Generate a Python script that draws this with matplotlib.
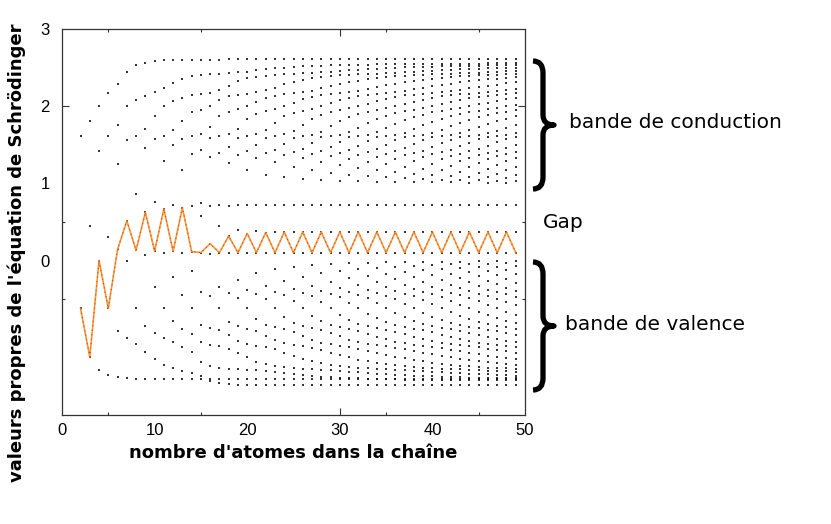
import numpy as np
import matplotlib
matplotlib.use("Agg")
from matplotlib import pyplot as plt
from matplotlib.path import Path
from matplotlib.patches import PathPatch

# chain of two kinds of atoms (site energies), nearest-neighbour hopping
eps_A = 1.0
eps_B = 0.0
hop = 1.0
# order of the atoms along the chain, fitted on the dots of the picture
head = "ABBABAABABABAB"
unit = "BA"
n_atoms = list(range(2, 50))

xtick_labels = ["0", "10", "20", "30", "40", "50"]
ytick_labels = ["0", "1", "2", "3"]


def chain(n):
    seq = (head + unit * n)[:n]
    e = [eps_A if s == "A" else eps_B for s in seq]
    h = np.diag(e) + np.diag([hop] * (n - 1), 1) + np.diag([hop] * (n - 1), -1)
    return np.sort(np.linalg.eigvalsh(h)), seq.count("A")


xs, ys, homo = [], [], []
for n in n_atoms:
    ev, na = chain(n)
    xs += [n] * n
    ys += list(ev)
    homo.append(ev[na - 1])  # last filled level, 2 electrons per A atom

fig = plt.figure(figsize=(8.31, 5.24), dpi=100)
ax = fig.add_axes([62 / 831, 1 - 415 / 524, 463 / 831, 386 / 524])

ax.plot(xs, ys, "s", color="#111111", markersize=1.5, markeredgewidth=0, alpha=0.85)
ax.plot(n_atoms, homo, color="#f39a3a", lw=1.2)
ax.plot(n_atoms, homo, color="#e8401c", lw=0.8, dashes=(1, 3))

ax.set_xlim(0, 50)
ax.set_ylim(-2, 3)
ax.set_xticks(range(0, 51, 10))
ax.set_xticklabels(xtick_labels, fontfamily="Liberation Sans", fontsize=12)
ax.set_yticks([0, 1, 2, 3])
ax.set_yticklabels(ytick_labels, fontfamily="Liberation Sans", fontsize=12)
ax.tick_params(which="major", direction="in", length=5, width=0.8,
               top=True, right=True, color="#333333")
ax.tick_params(axis="x", which="major", pad=6)
ax.tick_params(axis="y", which="major", pad=9)
for i, t in enumerate(ax.xaxis.get_major_ticks()):
    if i != 3:
        t.tick1line.set_visible(False)
        t.tick2line.set_visible(False)
for i, t in enumerate(ax.yaxis.get_major_ticks()):
    if i != 2:
        t.tick1line.set_visible(False)
        t.tick2line.set_visible(False)
ax.set_xticks([5, 15, 35, 45], minor=True)
ax.set_yticks([-0.5, 0.5], minor=True)
ax.tick_params(which="minor", direction="in", length=2.5, width=0.8,
               top=True, right=True, color="#333333")
for s in ax.spines.values():
    s.set_linewidth(0.9)
    s.set_color("#333333")

ax.set_xlabel("nombre d'atomes dans la chaîne", fontsize=13, fontweight="bold",
              fontfamily="DejaVu Sans", labelpad=4)
ax.set_ylabel("valeurs propres de l'équation de Schrödinger", fontsize=13,
              fontweight="bold", fontfamily="DejaVu Sans")
ax.yaxis.set_label_coords(-36 / 463, 0.42)

# overlay in pixel coordinates for the braces and their labels
ov = fig.add_axes([0, 0, 1, 1])
ov.set_xlim(0, 831)
ov.set_ylim(524, 0)
ov.axis("off")


def brace(y0, y1, xl=533, xs_=543, xt=554):
    m = (y0 + y1) / 2
    verts = [(xl, y0), (xs_, y0), (xs_, y0 + 12),
             (xs_, m - 10), (xs_, m), (xt, m),
             (xs_, m), (xs_, m + 10),
             (xs_, y1 - 12), (xs_, y1), (xl, y1)]
    codes = [Path.MOVETO, Path.CURVE3, Path.CURVE3,
             Path.LINETO, Path.CURVE3, Path.CURVE3,
             Path.CURVE3, Path.CURVE3,
             Path.LINETO, Path.CURVE3, Path.CURVE3]
    ov.add_patch(PathPatch(Path(verts, codes), fill=False, lw=3.8, color="black",
                           capstyle="butt", joinstyle="round"))


brace(61, 189)
brace(262, 390)
ov.text(569, 123, "bande de conduction", fontsize=14.5, va="center", ha="left")
ov.text(543, 223, "Gap", fontsize=14.5, va="center", ha="left")
ov.text(565, 324, "bande de valence", fontsize=14.5, va="center", ha="left")

fig.savefig("out.png", dpi=100)
